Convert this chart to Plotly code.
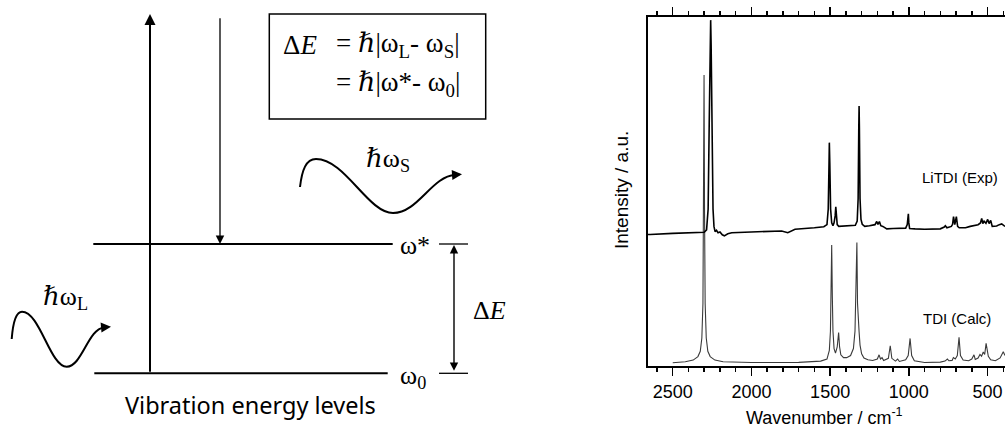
import plotly.graph_objects as go

# ---------------- Spectrum data ----------------
# Wavenumber (cm-1) and intensity (a.u., 0-100 scale of the axis)
exp_wn = [2659, 2644, 2500, 2400, 2330, 2300, 2285, 2275, 2268, 2262, 2259, 2256, 2250, 2244,
          2238, 2231, 2222, 2212, 2200, 2185, 2172, 2150, 2125, 1977, 1808, 1769, 1723, 1600,
          1540, 1520, 1512, 1507, 1505, 1502, 1497, 1490, 1482, 1475, 1468, 1464, 1460, 1455,
          1445, 1400, 1363, 1340, 1328, 1322, 1318, 1316, 1314, 1310, 1304, 1296, 1280, 1250,
          1230, 1215, 1204, 1196, 1187, 1178, 1165, 1140, 1100, 1020, 1010, 1006, 1003, 1000,
          995, 960, 900, 800, 775, 768, 758, 730, 722, 716, 708, 698, 690, 680, 640, 610, 580,
          560, 545, 537, 530, 522, 510, 499, 490, 480, 470, 442, 425, 410, 389]
exp_int = [37.7, 37.7, 38.0, 38.1, 38.2, 38.3, 39.0, 45.0, 70.0, 92.0, 99.1, 92.0, 65.0, 45.0,
           40.0, 38.5, 38.9, 38.2, 38.4, 37.6, 37.3, 37.9, 38.2, 38.5, 38.7, 38.2, 39.2, 39.6,
           39.9, 40.5, 45.0, 58.0, 64.0, 58.0, 45.0, 41.0, 40.2, 41.0, 43.0, 45.6, 43.0, 40.5,
           40.0, 40.2, 40.4, 40.3, 41.5, 48.0, 68.0, 74.5, 68.0, 48.0, 42.0, 40.6, 40.0, 40.2,
           40.3, 40.5, 41.4, 40.6, 41.4, 40.2, 40.0, 39.3, 39.4, 39.5, 40.5, 42.0, 43.6, 41.0,
           39.4, 39.3, 39.2, 39.3, 39.8, 40.2, 39.6, 40.0, 40.6, 42.8, 40.5, 42.8, 40.0, 39.6,
           39.6, 40.0, 40.2, 40.5, 41.0, 42.3, 40.8, 41.5, 40.9, 42.0, 40.8, 41.7, 40.0, 40.1,
           40.5, 40.7, 40.0]

calc_wn = [2500, 2420, 2370, 2340, 2325, 2315, 2308, 2304, 2301, 2298, 2294, 2287, 2277, 2262,
           2232, 2180, 2000, 1700, 1560, 1520, 1505, 1498, 1494, 1490, 1486, 1482, 1475, 1466,
           1455, 1446, 1440, 1432, 1415, 1395, 1370, 1352, 1342, 1336, 1330, 1326, 1320, 1316,
           1310, 1300, 1285, 1260, 1230, 1200, 1189, 1180, 1170, 1160, 1130, 1118, 1108, 1085,
           1071, 1060, 1020, 1004, 992, 982, 965, 900, 800, 770, 755, 745, 725, 717, 705, 692,
           681, 672, 655, 620, 600, 586, 578, 560, 548, 538, 527, 518, 509, 500, 495, 480, 450,
           420, 405, 400, 389]
calc_int = [0.95, 1.2, 1.7, 2.7, 4.2, 8.0, 18.0, 45.0, 83.4, 45.0, 18.0, 8.0, 4.2, 2.7,
            1.7, 1.2, 1.0, 1.05, 1.4, 2.0, 4.5, 10.0, 20.0, 34.7, 20.0, 10.0, 5.0, 3.7,
            5.5, 9.6, 5.5, 3.2, 2.4, 2.4, 3.0, 5.0, 10.0, 22.0, 35.4, 18.0, 10.0, 9.8,
            6.0, 3.5, 2.3, 1.8, 1.6, 2.0, 3.2, 2.0, 2.4, 1.6, 2.2, 5.8, 2.2, 1.4,
            2.0, 1.3, 1.8, 3.0, 7.9, 3.0, 1.5, 1.0, 1.1, 1.4, 2.0, 1.5, 1.6, 2.4, 2.0, 3.0,
            8.2, 3.0, 1.7, 1.5, 2.0, 3.2, 1.9, 2.3, 3.3, 2.8, 4.0, 3.3, 6.5, 3.5, 2.8, 1.8, 1.5,
            2.3, 4.1, 4.1, 3.0]

x_tick_vals = [2500, 2000, 1500, 1000, 500]
x_tick_text = ["2500", "2000", "1500", "1000", "500"]
x_range = [2659, 389]
y_range = [0, 100]

series_labels = ["LiTDI (Exp)", "TDI (Calc)"]

# ---------------- Diagram geometry (pixel space of the figure) ----------------
level_names = ["ω*", "ω<sub>0</sub>"]
level_y = [244, 373.3]
level_x0 = [93.3, 94.3]
level_x1 = [392.7, 387.7]

SANS = "Liberation Sans, Arial, sans-serif"
SERIF = "Liberation Serif, DejaVu Serif, serif"
DIAG_SANS = "Noto Sans, Open Sans, sans-serif"

fig = go.Figure()

# spectra
fig.add_trace(go.Scatter(x=calc_wn, y=calc_int, mode="lines",
                         line=dict(color="#3a3a3a", width=1.1), showlegend=False,
                         xaxis="x", yaxis="y"))
fig.add_trace(go.Scatter(x=exp_wn, y=exp_int, mode="lines",
                         line=dict(color="black", width=1.6), showlegend=False,
                         xaxis="x", yaxis="y"))

# invisible trace to create the pixel-space diagram axes
fig.add_trace(go.Scatter(x=[0, 1005], y=[0, 430], mode="markers",
                         marker=dict(opacity=0), showlegend=False, hoverinfo="skip",
                         xaxis="x2", yaxis="y2"))

shapes = []
annos = []

def line(x0, y0, x1, y1, w=2.0):
    shapes.append(dict(type="line", xref="x2", yref="y2", x0=x0, y0=y0, x1=x1, y1=y1,
                       line=dict(color="black", width=w)))

def arrow(xt, yt, xs, ys, w=2.0, size=1.0, both=False):
    d = dict(x=xt, y=yt, ax=xs, ay=ys, xref="x2", yref="y2", axref="x2", ayref="y2",
             text="", showarrow=True, arrowhead=2, arrowsize=size, arrowwidth=w,
             arrowcolor="black", standoff=0, startstandoff=0)
    if both:
        d.update(arrowside="end+start", startarrowhead=2, startarrowsize=size)
    annos.append(d)

def text(x, y, t, size, family, xanchor="left", yanchor="middle", angle=0):
    annos.append(dict(x=x, y=y, xref="x2", yref="y2", text=t, showarrow=False,
                      xanchor=xanchor, yanchor=yanchor, textangle=angle,
                      font=dict(size=size, family=family, color="black")))

# energy levels
for yl, x0, x1, nm in zip(level_y, level_x0, level_x1, level_names):
    line(x0, yl, x1, yl, 2.0)
    text(398, yl + (1 if nm == "ω*" else 4), nm, 26, SERIF)

# vertical excitation arrow (up) and scattered arrow (down)
arrow(150, 14, 150, 373.3, w=2.0, size=1.1)
arrow(220, 244, 220, 16.7, w=1.3, size=1.3)

# Delta E bracket
line(439, 244, 468, 244, 1.3)
line(439, 373.3, 468, 373.3, 1.3)
arrow(454, 245, 454, 372.3, w=1.4, size=1.2, both=True)
text(471, 310, "Δ<i>E</i>", 26, SERIF)

# box with equations
shapes.append(dict(type="rect", xref="x2", yref="y2", x0=269.3, y0=14, x1=485.7, y1=119,
                   line=dict(color="black", width=1.5)))
text(281, 45, "Δ<i>E</i>", 27, SERIF)
text(334, 45, "= <i>ℏ</i>|ω<sub>L</sub>- ω<sub>S</sub>|", 27, SERIF)
text(334, 84, "= <i>ℏ</i>|ω*- ω<sub>0</sub>|", 27, SERIF)

# photon waves
shapes.append(dict(type="path", xref="x2", yref="y2",
                   path="M 300,187 C 302,170 306,159 316,159 C 345,159 368,213 393,213 "
                        "C 418,213 432,176 455,175",
                   line=dict(color="black", width=2.0)))
arrow(462, 174.3, 452, 175, w=2.0, size=1.0)
text(388, 160, "<i>ℏ</i>ω<sub>S</sub>", 26, SERIF, xanchor="center")

shapes.append(dict(type="path", xref="x2", yref="y2",
                   path="M 11.7,339 C 13,322 16,311.7 22,311.7 C 40,311.7 50,366.7 66.7,366.7 "
                        "C 82,366.7 88,329 104,327.5",
                   line=dict(color="black", width=2.0)))
arrow(111, 326.7, 101, 327.6, w=2.0, size=1.0)
text(65, 298, "<i>ℏ</i>ω<sub>L</sub>", 26, SERIF, xanchor="center")

text(250.5, 405, "Vibration energy levels", 23.5, DIAG_SANS, xanchor="center")

# spectrum labels and axis titles
text(960, 177.5, series_labels[0], 15, SANS, xanchor="center")
text(957, 318, series_labels[1], 15, SANS, xanchor="center")
text(824, 416, "Wavenumber / cm<sup>-1</sup>", 18, SANS, xanchor="center")
text(621, 190, "Intensity / a.u.", 19, SANS, xanchor="center", angle=-90)

fig.update_layout(
    width=1005, height=430,
    margin=dict(l=0, r=0, t=0, b=0),
    paper_bgcolor="white", plot_bgcolor="rgba(0,0,0,0)",
    showlegend=False,
    shapes=shapes, annotations=annos,
    xaxis=dict(domain=[647.7 / 1005, 1.0], range=x_range, anchor="y",
               showgrid=False, zeroline=False, showline=True, linecolor="black",
               linewidth=2, mirror="ticks", ticks="outside", ticklen=8, tickwidth=1.5,
               tickcolor="black", tickvals=x_tick_vals, ticktext=x_tick_text,
               tickfont=dict(size=18, family=SANS, color="black"),
               minor=dict(dtick=100, tick0=0, ticks="outside", ticklen=4, tickwidth=1.5,
                          tickcolor="black", showgrid=False)),
    yaxis=dict(domain=[64 / 430, 413 / 430], range=y_range, anchor="x",
               showgrid=False, zeroline=False, showline=True, linecolor="black",
               linewidth=2, mirror=False, ticks="", showticklabels=False),
    xaxis2=dict(domain=[0, 1], range=[0, 1005], anchor="y2", visible=False),
    yaxis2=dict(domain=[0, 1], range=[430, 0], anchor="x2", visible=False),
)

fig.write_html("out.html", config={"displayModeBar": False, "staticPlot": True},
               post_script="document.body.style.margin='0px';"
                           "document.body.style.overflow='hidden';")
